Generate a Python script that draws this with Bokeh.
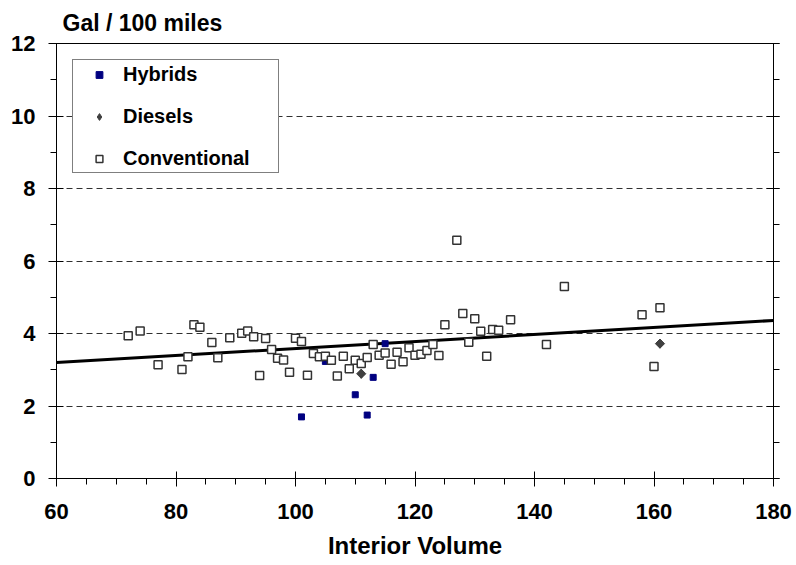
import numpy as np
from bokeh.plotting import figure
from bokeh.models import (Range1d, LinearAxis, SingleIntervalTicker, CustomJSTickFormatter,
                          Legend, LegendItem)
from bokeh.embed import file_html
from bokeh.resources import INLINE

# ---- data ----
conv_x = [72, 74, 77, 81, 82, 83, 84, 86, 87, 89,
          91, 92, 93, 94, 95, 96, 97, 98, 99, 100,
          101, 102, 103, 104, 105, 106, 107, 108, 109, 110,
          111, 112, 113, 114, 115, 116, 117, 118, 119, 120,
          121, 122, 123, 124, 125, 127, 128, 129, 130, 131,
          132, 133, 134, 136, 142, 145, 158, 160, 161]
conv_y = [3.94, 4.07, 3.14, 3.01, 3.36, 4.24, 4.17, 3.75, 3.33, 3.88,
          4.01, 4.07, 3.91, 2.84, 3.86, 3.56, 3.32, 3.27, 2.93, 3.87,
          3.78, 2.85, 3.45, 3.36, 3.37, 3.26, 2.83, 3.37, 3.03, 3.26,
          3.17, 3.34, 3.70, 3.40, 3.46, 3.15, 3.48, 3.22, 3.61, 3.40,
          3.43, 3.53, 3.70, 3.39, 4.24, 6.57, 4.55, 3.76, 4.41, 4.06,
          3.37, 4.11, 4.09, 4.38, 3.70, 5.30, 4.52, 3.09, 4.71]
hyb_x = [101, 105, 110, 112, 113, 115]
hyb_y = [1.70, 3.23, 2.31, 1.75, 2.79, 3.72]
dsl_x = [111, 161]
dsl_y = [2.89, 3.72]
trend_x = [60, 180]
trend_y = [3.20, 4.36]

FONT = "Liberation Sans"

p = figure(output_backend="svg", toolbar_location=None,
           frame_width=717, frame_height=435,
           min_border_left=56, min_border_right=20, min_border_top=43, min_border_bottom=84,
           x_range=Range1d(60, 180), y_range=Range1d(0, 12))
p.background_fill_color = "white"
p.border_fill_color = "white"
p.outline_line_color = "black"
p.outline_line_width = 1
p.outline_line_alpha = 1

# title
p.title.text = "Gal / 100 miles"
p.title.align = "left"
p.title.vertical_align = "top"
p.title.offset = 6
p.title.standoff = 12
p.title.text_font = FONT
p.title.text_font_style = "bold"
p.title.text_font_size = "23px"
p.title.text_color = "black"

# axes
for ax in (p.xaxis[0], p.yaxis[0]):
    ax.axis_line_color = "black"
    ax.axis_line_width = 1
    ax.major_tick_line_color = "black"
    ax.minor_tick_line_color = "black"
    ax.major_tick_in = 7
    ax.major_tick_out = 8
    ax.minor_tick_in = 0
    ax.minor_tick_out = 6
    ax.major_label_text_font = FONT
    ax.major_label_text_font_style = "bold"
    ax.major_label_text_font_size = "22px"
    ax.major_label_text_color = "black"
    ax.axis_label_text_font = FONT
    ax.axis_label_text_font_style = "bold"
    ax.axis_label_text_font_size = "24px"
    ax.axis_label_text_color = "black"

p.xaxis[0].ticker = SingleIntervalTicker(interval=20, num_minor_ticks=4)
p.yaxis[0].ticker = SingleIntervalTicker(interval=2, num_minor_ticks=2)
p.xaxis[0].axis_label = "Interior Volume"
p.xaxis[0].major_label_standoff = 17
p.xaxis[0].axis_label_standoff = 10
p.yaxis[0].major_label_standoff = 13

# right axis without labels
ra = LinearAxis(ticker=SingleIntervalTicker(interval=2, num_minor_ticks=2),
                formatter=CustomJSTickFormatter(code="return ''"))
ra.axis_line_color = "black"
ra.major_tick_line_color = "black"
ra.minor_tick_line_color = "black"
ra.major_tick_in = 7
ra.major_tick_out = 6
ra.minor_tick_in = 0
ra.minor_tick_out = 6
ra.major_label_text_font_size = "1px"
ra.major_label_standoff = 0
p.add_layout(ra, "right")

# grid
p.xgrid.grid_line_color = None
p.ygrid.ticker = SingleIntervalTicker(interval=2)
p.ygrid.grid_line_color = "#303030"
p.ygrid.grid_line_width = 1
p.ygrid.grid_line_dash = "6 4"

# trend line
p.line(trend_x, trend_y, line_color="black", line_width=3)

# series
r_h = p.scatter(hyb_x, hyb_y, marker="square", size=6, fill_color="#000080",
                line_color="#000080", line_width=1)
# diesel: diamond glyph (used for the legend) covered by a 45-degree square of the same colour
r_d = p.scatter(dsl_x, dsl_y, marker="diamond", size=9,
                fill_color="#404040", line_color="#404040", line_width=1)
p.scatter(dsl_x, dsl_y, marker="square", size=6.5, angle=np.pi / 4,
          fill_color="#404040", line_color="#404040", line_width=1)
r_c = p.scatter(conv_x, conv_y, marker="square", size=8, fill_color="white",
                line_color="#333333", line_width=1.5)

legend = Legend(items=[LegendItem(label="Hybrids", renderers=[r_h]),
                       LegendItem(label="Diesels", renderers=[r_d]),
                       LegendItem(label="Conventional", renderers=[r_c])],
                location=(16, 305))
legend.label_text_font = FONT
legend.label_text_font_style = "bold"
legend.label_text_font_size = "20px"
legend.label_text_color = "black"
legend.border_line_color = "black"
legend.border_line_width = 1
legend.background_fill_color = "white"
legend.background_fill_alpha = 1
legend.padding = 2
legend.spacing = 18
legend.glyph_width = 48
legend.glyph_height = 17
legend.label_height = 24
legend.label_standoff = -4
legend.label_width = 153
legend.margin = 0
p.add_layout(legend, "center")

open("out.html", "w").write(file_html(p, INLINE))
